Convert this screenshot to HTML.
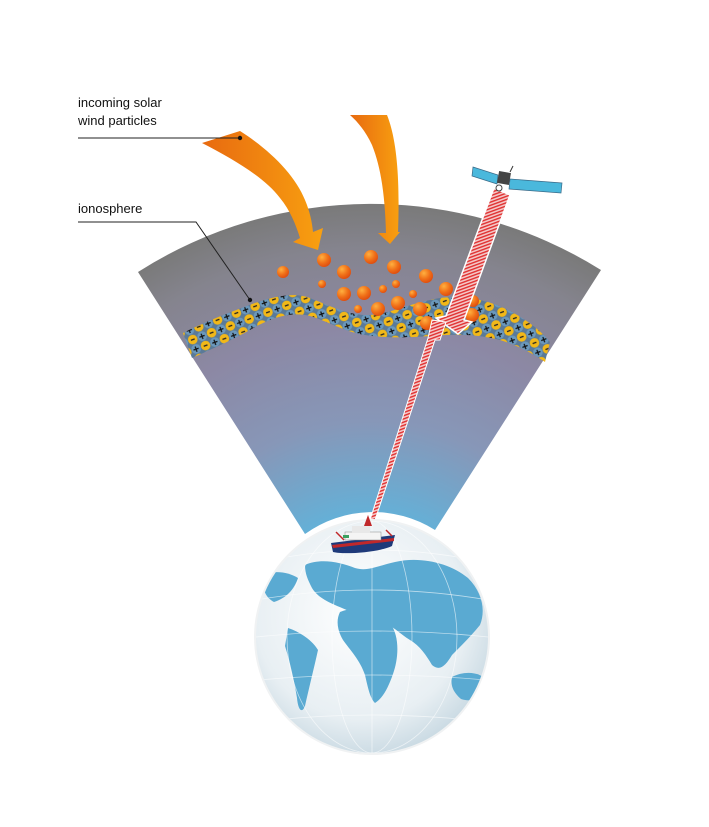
<!DOCTYPE html>
<html><head><meta charset="utf-8"><style>
html,body{margin:0;padding:0;background:#fff;width:709px;height:827px;overflow:hidden}
svg{display:block}
text{font-family:"Liberation Sans",sans-serif;font-size:13px;fill:#111}
</style></head><body>
<svg width="709" height="827" viewBox="0 0 709 827" xmlns="http://www.w3.org/2000/svg">
<defs>
<radialGradient id="fan" cx="370" cy="638" r="433" gradientUnits="userSpaceOnUse">
<stop offset="0.25" stop-color="#5fb4dc"/>
<stop offset="0.5" stop-color="#8797b8"/>
<stop offset="0.72" stop-color="#8c88a4"/>
<stop offset="0.9" stop-color="#85848e"/>
<stop offset="1" stop-color="#7a7a7a"/>
</radialGradient>
<linearGradient id="arr" x1="0" x2="1" y1="0" y2="0">
<stop offset="0" stop-color="#e86a10"/><stop offset="1" stop-color="#f8a010"/>
</linearGradient>
<radialGradient id="ball" cx="0.35" cy="0.3" r="0.7">
<stop offset="0" stop-color="#ffb040"/><stop offset="0.6" stop-color="#f07018"/><stop offset="1" stop-color="#e05010"/>
</radialGradient>
<radialGradient id="ocean" cx="0.45" cy="0.4" r="0.65">
<stop offset="0" stop-color="#ffffff"/><stop offset="0.7" stop-color="#e8eff3"/><stop offset="1" stop-color="#c4d6e0"/>
</radialGradient>
<pattern id="ions" width="20" height="20" patternUnits="userSpaceOnUse" patternTransform="rotate(-20)">
<rect width="20" height="20" fill="#5a7a98"/>
<circle cx="5" cy="5" r="4.8" fill="#f2b818"/><rect x="3" y="4.4" width="4" height="1.3" fill="#222"/>
<circle cx="15" cy="5" r="4.8" fill="#6a98bc"/><text x="11.6" y="9" style="font-size:11px;fill:#111;font-weight:bold">+</text>
<circle cx="5" cy="15" r="4.8" fill="#6a98bc"/><text x="1.6" y="19" style="font-size:11px;fill:#111;font-weight:bold">+</text>
<circle cx="15" cy="15" r="4.8" fill="#f2b818"/><rect x="13" y="14.4" width="4" height="1.3" fill="#222"/>
</pattern>
<pattern id="hatch" width="4" height="3" patternUnits="userSpaceOnUse" patternTransform="rotate(-20)">
<rect width="4" height="3" fill="#f4c8c8"/><rect width="4" height="1.4" fill="#e03030"/>
</pattern>
<clipPath id="gc"><circle cx="372" cy="637" r="116"/></clipPath>
</defs>

<path d="M138,272 A433,433 0 0 1 601,270 L435,530 A116,116 0 0 0 305,534 Z" fill="url(#fan)"/>

<!-- ionosphere band -->
<path d="M183,333 C205,322 230,312 255,303 C275,296 295,292 310,298 C330,306 350,316 370,315 C390,314 410,303 440,298 C465,295 490,300 512,312 C530,322 542,332 550,342 L545,362 C535,355 520,346 500,340 C475,334 455,334 430,336 C405,338 385,338 365,335 C345,332 330,322 310,316 C290,311 270,318 250,330 C230,341 210,350 192,358 Z" fill="url(#ions)"/>

<path d="M202,143 L240,131 C270,150 295,175 305,200 C310,212 312,222 313,232 L323,228 L318,250 L293,242 L300,238 C296,225 290,210 280,198 C265,178 235,160 202,143 Z" fill="url(#arr)"/>
<path d="M350,115 L387,115 C397,140 400,180 398,232 L400,232 L390,244 L378,233 L386,233 C385,200 382,170 372,145 C366,132 358,122 350,115 Z" fill="url(#arr)"/>

<g fill="url(#ball)">
<circle cx="283" cy="272" r="6"/><circle cx="324" cy="260" r="7"/><circle cx="344" cy="272" r="7"/>
<circle cx="371" cy="257" r="7"/><circle cx="394" cy="267" r="7"/><circle cx="426" cy="276" r="7"/>
<circle cx="322" cy="284" r="4"/><circle cx="396" cy="284" r="4"/><circle cx="383" cy="289" r="4"/>
<circle cx="413" cy="294" r="4"/><circle cx="344" cy="294" r="7"/><circle cx="364" cy="293" r="7"/>
<circle cx="398" cy="303" r="7"/><circle cx="378" cy="309" r="7"/><circle cx="446" cy="289" r="7"/>
<circle cx="420" cy="309" r="7"/><circle cx="473" cy="301" r="6"/><circle cx="472" cy="315" r="7"/>
<circle cx="427" cy="323" r="7"/><circle cx="358" cy="309" r="4"/><circle cx="440" cy="325" r="6"/>
</g>

<path d="M494,188 L510,195 L464,320 L472,322 L458,334 L436,318 L446,316 Z" fill="url(#hatch)" stroke="#fff" stroke-width="1.5"/>
<path d="M432,320 L446,322 L440,340 L435,340 L375,520 L370,520 L428,338 Z" fill="url(#hatch)" stroke="#fff" stroke-width="1"/>

<g>
<polygon points="473,167 498,175 497,184 472,176" fill="#4ab8dc" stroke="#3a6a88" stroke-width="0.7"/>
<polygon points="510,179 562,183 561,193 509,189" fill="#4ab8dc" stroke="#3a6a88" stroke-width="0.7"/>
<rect x="498" y="172" width="12" height="12" fill="#444" transform="rotate(10 504 178)"/>
<line x1="510" y1="172" x2="513" y2="166" stroke="#333"/>
<circle cx="499" cy="188" r="3" fill="none" stroke="#444"/>
</g>

<circle cx="372" cy="637" r="118" fill="#f0f2f3"/>
<circle cx="372" cy="637" r="116" fill="url(#ocean)"/>
<g clip-path="url(#gc)" fill="#5aaad2">
<path d="M305,565 C320,558 340,562 355,568 C368,572 380,565 395,562 C420,556 450,563 468,578 C482,592 486,610 480,625 C472,635 462,645 452,655 C446,665 440,672 432,665 C426,655 420,646 410,640 C400,634 392,625 382,622 C370,620 356,614 342,608 C330,603 318,598 312,588 C308,580 305,574 305,565 Z"/>
<path d="M340,612 C358,604 382,612 392,626 C400,640 398,660 393,674 C388,688 383,698 375,703 C370,698 368,688 365,675 C360,660 350,650 343,640 C337,630 336,620 340,612 Z"/>
<path d="M288,628 C300,632 312,640 318,650 C314,668 309,688 305,706 C302,714 298,710 297,698 C294,680 290,662 285,646 Z"/>
<path d="M262,575 C275,570 288,572 298,578 C294,590 286,598 274,602 C266,598 262,590 262,575 Z"/>
<path d="M452,677 C465,670 482,672 488,682 C485,698 474,703 461,699 C454,693 450,686 452,677 Z"/>
</g>
<g clip-path="url(#gc)" fill="none" stroke="#fff" stroke-opacity="0.6" stroke-width="0.8">
<ellipse cx="372" cy="637" rx="40" ry="116"/><ellipse cx="372" cy="637" rx="85" ry="116"/>
<line x1="372" y1="520" x2="372" y2="754"/>
<path d="M256,600 Q372,580 488,600"/><path d="M256,637 Q372,625 488,637"/><path d="M258,680 Q372,670 486,680"/><path d="M270,560 Q372,540 474,560"/><path d="M275,720 Q372,710 470,720"/>
</g>

<g>
<path d="M331,543 L395,535 L392,546 C380,552 345,555 333,552 Z" fill="#1e3a7a"/>
<path d="M332,545 L394,538 L394,541 L333,548 Z" fill="#c0282a"/>
<rect x="345" y="532" width="36" height="8" fill="#f4f4f4" stroke="#888" stroke-width="0.5"/>
<rect x="352" y="526" width="18" height="7" fill="#e8e8e8"/>
<path d="M368,515 L372,526 L364,526 Z" fill="#c0282a"/>
<line x1="336" y1="532" x2="344" y2="540" stroke="#c0282a" stroke-width="1.5"/>
<line x1="386" y1="530" x2="392" y2="536" stroke="#c0282a" stroke-width="1.5"/>
<rect x="343" y="535" width="6" height="3" fill="#3aa060"/>
</g>

<text x="78" y="107">incoming solar</text>
<text x="78" y="125">wind particles</text>
<path d="M78,138 L240,138" stroke="#222" stroke-width="1"/>
<circle cx="240" cy="138" r="2.2" fill="#111"/>
<text x="78" y="213">ionosphere</text>
<path d="M78,222 L196,222 L250,300" stroke="#222" stroke-width="1" fill="none"/>
<circle cx="250" cy="300" r="2.2" fill="#111"/>
</svg>
</body></html>
